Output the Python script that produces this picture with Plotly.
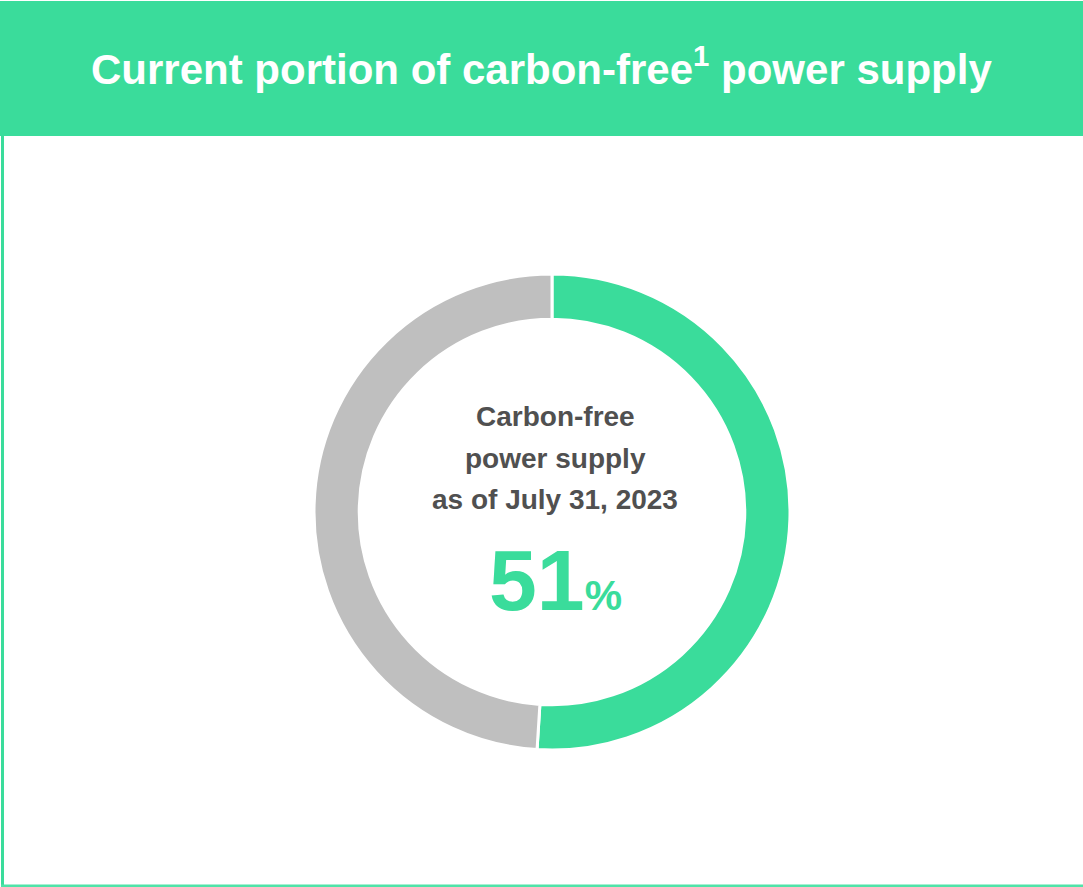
import plotly.graph_objects as go

W, H = 1083, 887

labels = ["Carbon-free", "Other"]
values = [51, 49]
colors = ["#3ADC9B", "#BFBFBF"]

title_text = "Current portion of carbon-free<sup>1</sup> power supply"
center_lines = ["Carbon-free", "power supply", "as of July 31, 2023"]
pct_value = "51"

GREEN = "#3ADC9B"
TEXT = "#505050"
FONT = "Liberation Sans, Arial, sans-serif"

def px(x):
    return x / W

def py(y):
    return 1 - y / H

fig = go.Figure()
fig.add_trace(go.Pie(
    labels=labels, values=values, hole=0.81, sort=False, direction="clockwise",
    rotation=0, marker=dict(colors=colors, line=dict(color="white", width=3)),
    textinfo="none", hoverinfo="label+percent", showlegend=False,
    domain=dict(x=[px(314), px(790)], y=[py(750), py(274)]),
))

shapes = [
    dict(type="rect", xref="paper", yref="paper", x0=0, x1=1, y0=py(136), y1=py(1),
         fillcolor=GREEN, line=dict(width=0), layer="below"),
    dict(type="rect", xref="paper", yref="paper", x0=px(1), x1=px(4), y0=py(886), y1=py(136),
         fillcolor=GREEN, line=dict(width=0), layer="below"),
    dict(type="rect", xref="paper", yref="paper", x0=px(1), x1=1, y0=py(887), y1=py(884.5),
         fillcolor="#4FE3A8", line=dict(width=0), layer="below"),
]

annotations = [
    dict(text="<b>" + title_text + "</b>", x=px(541.5), y=py(66), xref="paper", yref="paper",
         showarrow=False, xanchor="center", yanchor="middle",
         font=dict(family=FONT, size=42, color="white")),
]
line_centers = [417, 458, 500]
for t, yc in zip(center_lines, line_centers):
    annotations.append(dict(text="<b>" + t + "</b>", x=px(555), y=py(yc), xref="paper", yref="paper",
                            showarrow=False, xanchor="center", yanchor="middle",
                            font=dict(family=FONT, size=28, color=TEXT)))
annotations.append(dict(
    text="<b>" + pct_value + "<span style='font-size:42px'>%</span></b>",
    x=px(555), y=py(580), xref="paper", yref="paper", showarrow=False,
    xanchor="center", yanchor="middle", font=dict(family=FONT, size=86, color=GREEN)))

fig.update_layout(
    width=W, height=H, margin=dict(l=0, r=0, t=0, b=0),
    paper_bgcolor="white", plot_bgcolor="white",
    shapes=shapes, annotations=annotations,
)
fig.write_html("out.html")
